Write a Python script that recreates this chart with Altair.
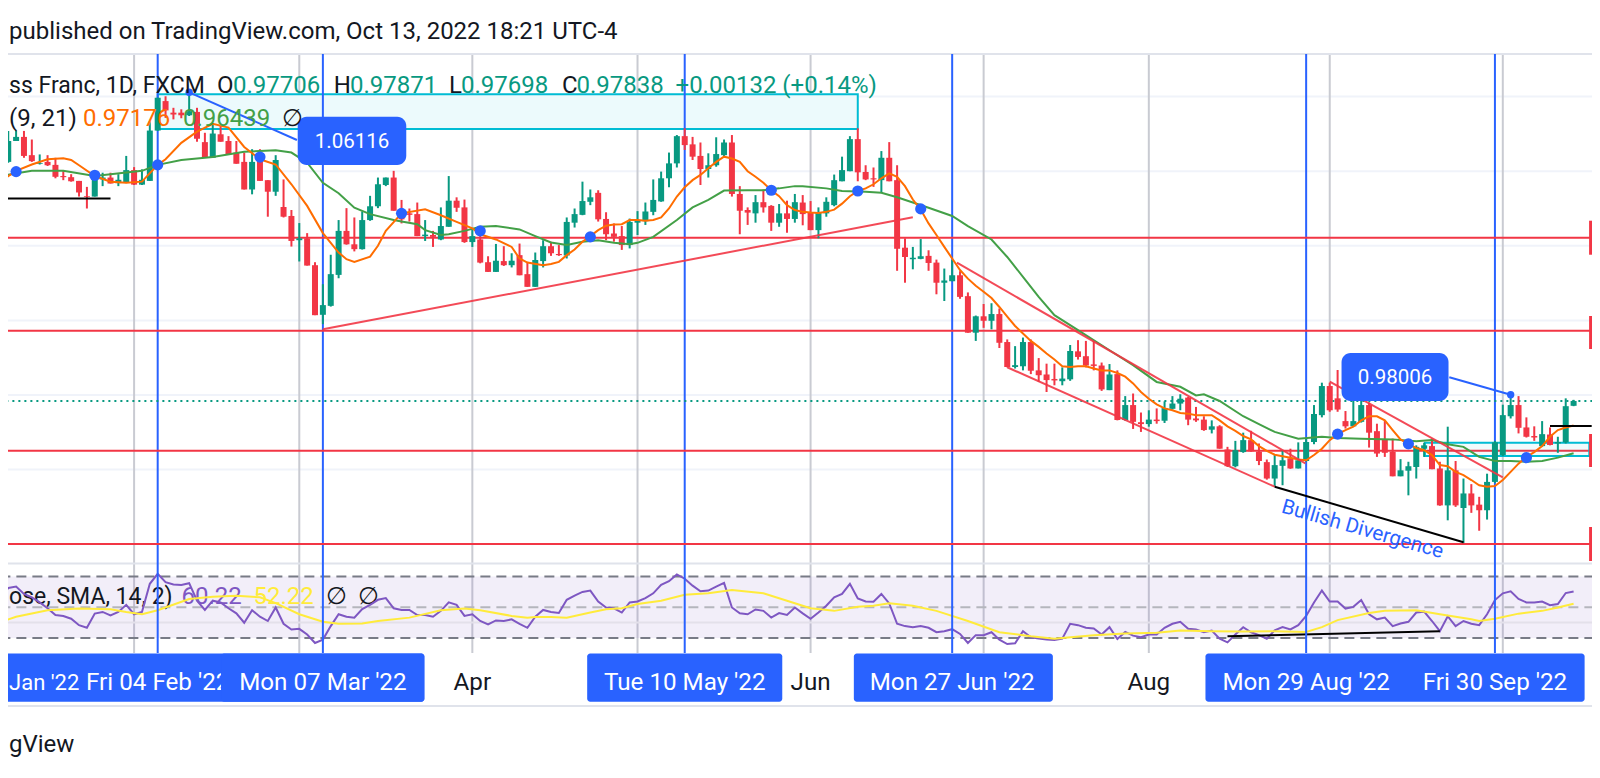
import altair as alt
import pandas as pd

# ---- candles: prices in 1/10000, first bar index -20 (Fri 04 Feb '22 = 0)
HIGH = [
 10450,10508,10509,10508,10485,10445,10443,10436,10401,10392,
 10374,10358,10392,10396,10396,10392,10441,10411,10405,10534,
 10597,10601,10570,10566,10612,10570,10503,10526,10521,10494,
 10481,10450,10459,10459,10376,10443,10378,10296,10261,10234,
 10156,10097,10176,10269,10301,10276,10292,10334,10383,10383,
 10401,10323,10300,10316,10269,10240,10303,10387,10330,10324,
 10244,10242,10172,10205,10199,10180,10206,10157,10182,10215,
 10211,10202,10276,10300,10372,10351,10349,10290,10260,10253,
 10273,10293,10316,10378,10399,10450,10497,10515,10492,10477,
 10448,10491,10485,10497,10360,10303,10336,10351,10309,10312,
 10321,10339,10336,10320,10303,10330,10391,10439,10494,10515,
 10416,10410,10454,10478,10416,10220,10197,10218,10188,10163,
 10139,10162,10132,10075,10013,10044,10046,10032,9949,9931,
 9954,9949,9899,9884,9884,9874,9934,9947,9945,9947,
 9887,9883,9866,9797,9804,9753,9759,9764,9783,9797,
 9802,9795,9768,9743,9732,9719,9661,9677,9699,9704,
 9670,9627,9639,9652,9656,9673,9683,9773,9833,9833,
 9867,9757,9786,9786,9780,9723,9732,9683,9628,9621,
 9665,9672,9683,9621,9715,9623,9576,9561,9527,9589,
 9677,9774,9801,9797,9740,9716,9730,9713,9688,9791,9787]
TOP = [
 10432,10481,10492,10492,10443,10422,10425,10417,10387,10384,
 10374,10333,10377,10383,10383,10377,10403,10403,10377,10509,
 10597,10588,10557,10557,10561,10559,10478,10501,10499,10481,
 10450,10425,10425,10427,10376,10430,10304,10280,10220,10220,
 10148,10041,10124,10240,10240,10204,10269,10306,10365,10383,
 10383,10296,10287,10285,10230,10229,10253,10321,10321,10303,
 10226,10217,10156,10160,10159,10160,10175,10124,10162,10199,
 10199,10178,10264,10285,10320,10330,10342,10272,10233,10226,
 10264,10268,10292,10323,10381,10421,10494,10494,10472,10441,
 10416,10446,10477,10477,10339,10296,10317,10317,10307,10287,
 10287,10317,10316,10289,10289,10318,10376,10403,10486,10486,
 10398,10381,10436,10436,10376,10195,10168,10172,10173,10155,
 10107,10121,10121,10065,10011,10011,10017,10017,9942,9880,
 9942,9942,9866,9855,9843,9844,9918,9917,9904,9882,
 9879,9855,9856,9773,9773,9727,9734,9734,9765,9777,
 9790,9793,9737,9734,9716,9716,9654,9652,9679,9679,
 9648,9620,9612,9625,9630,9625,9674,9749,9824,9824,
 9791,9730,9730,9773,9773,9703,9681,9648,9598,9609,
 9661,9665,9663,9603,9598,9598,9536,9536,9506,9567,
 9673,9746,9773,9773,9713,9690,9695,9694,9674,9770,9784]
BOT = [
 10383,10425,10481,10441,10427,10420,10416,10385,10384,10373,
 10343,10331,10332,10378,10367,10368,10369,10364,10364,10374,
 10509,10563,10552,10550,10550,10487,10436,10436,10479,10445,
 10420,10351,10351,10374,10345,10345,10278,10213,10215,10147,
 10014,10015,10039,10122,10204,10191,10191,10269,10306,10363,
 10294,10271,10283,10226,10226,10224,10217,10251,10302,10210,
 10210,10155,10130,10130,10148,10148,10121,10090,10090,10159,
 10180,10175,10174,10262,10283,10318,10271,10231,10224,10202,
 10202,10262,10266,10291,10319,10381,10421,10470,10439,10406,
 10406,10416,10443,10339,10294,10289,10287,10303,10262,10262,
 10272,10272,10285,10242,10242,10287,10309,10373,10400,10397,
 10378,10378,10376,10373,10192,10170,10164,10165,10154,10101,
 10101,10105,10063,9967,9967,9999,9999,9940,9875,9875,
 9877,9865,9853,9840,9839,9837,9842,9902,9879,9878,
 9815,9813,9733,9733,9728,9722,9722,9730,9731,9763,
 9777,9734,9732,9706,9707,9656,9609,9609,9647,9649,
 9623,9576,9576,9610,9603,9603,9623,9674,9746,9759,
 9761,9716,9716,9728,9699,9643,9645,9582,9582,9597,
 9607,9656,9601,9504,9504,9504,9497,9504,9491,9491,
 9567,9639,9743,9712,9688,9686,9663,9666,9670,9673,9771]
LOW = [
 10369,10423,10481,10436,10425,10418,10414,10381,10376,10372,
 10332,10300,10332,10360,10367,10360,10368,10363,10363,10374,
 10508,10543,10539,10542,10548,10479,10436,10436,10479,10445,
 10420,10351,10338,10374,10278,10334,10276,10198,10158,10147,
 10014,9990,10037,10113,10203,10185,10190,10267,10301,10360,
 10294,10260,10265,10226,10213,10197,10215,10251,10291,10208,
 10197,10153,10130,10130,10146,10142,10121,10090,10090,10142,
 10173,10173,10166,10249,10282,10309,10265,10215,10211,10189,
 10193,10229,10256,10282,10318,10357,10410,10457,10430,10363,
 10383,10412,10437,10332,10231,10256,10262,10289,10240,10251,
 10235,10262,10255,10242,10220,10278,10306,10373,10400,10373,
 10376,10358,10342,10373,10133,10101,10137,10164,10133,10070,
 10052,10105,10058,9967,9945,9980,9976,9926,9874,9871,
 9866,9856,9835,9808,9826,9826,9838,9895,9874,9866,
 9811,9813,9732,9731,9709,9701,9715,9723,9725,9761,
 9759,9719,9728,9704,9697,9656,9607,9606,9645,9648,
 9612,9573,9554,9558,9602,9603,9621,9668,9740,9755,
 9755,9710,9716,9726,9659,9634,9634,9582,9582,9531,
 9576,9634,9601,9503,9464,9500,9403,9484,9436,9466,
 9564,9636,9737,9697,9686,9677,9661,9665,9645,9670,9770]
DIRECTION = ("gggrrgrrrr" "rrggrggrgg" "grrrgrrgrr" "rrgrrgrrgr" "rgggrrgggg"
             "rrrrgrggrr" "grrgrgrrgg" "rrggggrrrr" "gggggggrrr" "gggrrrgrrg"
             "rgrrgggggr" "rrgrrrggrr" "ggrrgrgrrg" "grrrrggrrr" "rgrgrrgrgg"
             "grrrgrrggr" "rrggrggggr" "rrggrrrrgg" "ggrrgrgrrg" "gggrrrgrggg")
FIRST_BAR = -20

EMA9_I = [-20,-18,-16,-14,-12,-11,-10,-8,-6,-4,-2,0,1,3,5,7,9,11,13,15,17,19,21,23,24,25,27,28,29,
 31,34,36,38,40,41,43,45,46,47,49,50,51,52,53,54,55,56,57,58,59,60,61,62,63,64,65,66,67,68,69,70,71,72,73,74,75,76,77,78,79,80,81,
 82,83,84,85,86,87,88,89,90,91,92,93,94,95,96,97,98,99,100,101,102,103,104,105,106,107,108,109,110,111,112,113,114,115,116,117,118,119,120,121,122,123,124,125,126,127,128,129,130,131,132,
 133,134,135,136,137,138,139,140,141,142,143,144,145,146,147,148,149,150,151,152,153,154,155,156,157,158,159,160,161,162,163,164,165,166,167,168,169,170,171,172,173,174,175,176,177,178,179,180]
EMA9_V = [10372,10401,10418,10432,10435,10430,10416,10387,10372,10369,10372,10417,10432,10476,10506,10527,10517,10465,10432,10418,10365,10307,10234,10182,10164,10157,10171,10200,10240,
 10287,10298,10282,10264,10247,10231,10217,10197,10166,10155,10148,10151,10157,10175,10190,10211,10226,10242,10254,10257,10258,10269,10269,10267,10269,10276,10300,10332,10357,10376,10390,10408,10425,10439,10434,10425,10400,10385,10369,10349,10333,10309,10296,
 10291,10289,10288,10291,10297,10313,10333,10347,10354,10365,10381,10394,10385,10360,10324,10297,10260,10229,10197,10166,10135,10112,10093,10077,10060,10036,10010,9985,9965,9945,9929,9911,9895,9877,9875,9877,9877,9871,9866,9866,9859,9849,9831,9808,9790,9775,9764,9759,9752,9750,9746,
 9746,9746,9732,9716,9704,9690,9681,9663,9650,9640,9636,9632,9627,9625,9639,9656,9679,9695,9706,9715,9732,9743,9743,9732,9706,9681,9668,9658,9652,9639,9612,9609,9594,9585,9572,9558,9554,9556,9572,9594,9616,9634,9647,9663,9688,9706,9713,9718]

EMA21_I = [-20,-16,-12,-8,-6,-2,0,3,7,11,15,17,19,21,23,25,27,30,
 31,33,34,36,37,39,41,43,46,48,50,52,54,56,58,60,61,63,66,68,70,72,75,77,79,81,
 82,85,87,90,92,94,96,98,101,103,106,108,110,112,114,117,121,124,127,130,132,
 133,135,138,140,142,145,148,150,153,157,160,162,164,166,168,170,172,174,176,178,180]
EMA21_V = [10387,10401,10401,10387,10392,10401,10417,10430,10438,10452,10456,10450,10423,10369,10341,10302,10285,10269,
 10265,10258,10242,10229,10231,10240,10251,10253,10244,10226,10209,10202,10211,10215,10208,10204,10208,10224,10269,10303,10323,10348,10349,10349,10354,10360,
 10360,10354,10347,10345,10342,10330,10316,10302,10280,10253,10217,10170,10117,10063,10014,9974,9920,9880,9835,9822,9799,
 9802,9784,9743,9722,9701,9683,9688,9685,9683,9681,9676,9679,9668,9661,9634,9623,9623,9621,9623,9632,9644]

DOT_I = [-18,-8,0,13,31,41,55,78,89,97,150,159,174]
DOT_V = [10399,10389,10417,10438,10287,10240,10224,10349,10347,10299,9695,9669,9632]

RSI = [55.3,62.5,63.4,58.6,56.4,53.1,49.3,44.9,44.3,42.5,38.3,36.6,45.8,46.9,44.7,46.9,51.5,45.4,46.9,65.2,
 71.7,66.3,64.7,64.5,65.6,54.2,48.2,54.2,53.1,49.3,46.0,39.9,48.0,43.8,41.0,49.8,39.2,35.5,35.9,32.2,
 26.7,28.9,37.7,45.4,43.8,43.2,48.7,51.5,54.8,55.9,49.3,48.2,48.2,44.9,44.9,43.8,47.6,53.1,51.5,44.3,
 45.4,41.0,38.8,41.4,41.0,42.1,39.2,36.6,
 43.8,48.2,46.9,46.2,54.8,57.5,59.9,60.8,53.7,49.8,49.3,46.5,53.1,53.7,55.9,59.0,64.5,66.9,71.3,68.5,
 64.0,60.3,60.8,63.4,65.8,49.8,46.0,45.4,48.5,47.6,43.2,46.2,44.9,49.8,46.0,42.5,46.5,50.9,56.4,58.6,
 65.2,55.7,53.7,53.5,58.6,52.4,39.2,37.7,37.0,37.7,36.6,33.7,34.4,35.7,32.6,26.7,31.8,31.8,33.7,28.9,
 26.0,26.5,34.4,30.4,29.6,28.9,28.7,
 29.5,39.2,38.3,36.6,36.1,32.2,37.0,29.3,33.9,31.5,30.4,32.2,32.2,36.6,39.2,40.5,35.9,35.5,33.7,34.8,
 29.5,27.1,32.2,37.0,33.7,31.8,29.5,35.0,37.0,35.5,38.3,44.3,53.1,60.8,53.7,53.7,49.1,50.2,54.6,45.4,
 42.1,43.2,37.7,39.4,40.5,46.5,47.1,41.0,34.4,44.1,37.7,41.0,39.2,38.3,45.4,54.6,59.0,60.3,55.3,53.1,
 53.1,53.7,51.3,52.0,59.2,60.22]
RSI_MA_I = [-20,-18,-14,-10,-6,-4,-2,0,4,7,10,13,15,18,21,23,26,28,32,36,39,41,45,47,
 48,50,52,55,57,59,61,64,67,70,73,77,80,83,86,89,91,93,96,99,103,107,111,114,
 115,119,123,127,130,134,138,142,146,148,150,154,156,160,163,167,168,170,173,176,178,180]
RSI_MA_V = [40.3,43.8,48.0,49.1,48.7,46.9,45.4,48.0,55.3,56.8,57.5,56.4,52.6,45.4,40.5,39.2,39.4,41.0,43.2,48.0,49.1,48.0,44.3,43.2,
 43.6,43.6,43.2,46.5,48.7,49.3,52.0,54.2,58.1,59.0,61.2,59.0,54.2,49.3,47.6,50.2,50.9,52.6,50.9,47.6,41.0,33.7,31.1,29.5,
 30.0,31.8,32.9,33.3,34.8,34.4,34.2,34.4,33.9,37.0,41.6,46.2,47.6,48.0,45.4,42.1,41.0,42.5,45.8,47.6,49.8,52.22]

MONTH_TICKS = [-3,18,40,61,83,105,126,149,171]
EVENT_BARS = [0,21,67,101,146,170]
PRICE_GRID = [1.06,1.04,1.02,1.00,0.98,0.96]
KEY_LEVELS = [1.02217,0.99724,0.96507,0.94005]
TAGS_LOW = [1.01761,0.99233,0.96070,0.93549]
TAGS_HIGH = [1.02673,1.00118,0.96954,0.94461]
PANE_SEPARATORS = [1.07142,0.93482,0.89662]
LAST_CLOSE = 0.97838

RED_LINES = [(21,0.99761,96,1.02764),(101.6,1.01547,145.9,0.96169),(108,0.98743,142,0.95542),(149,0.98357,171,0.95794)]
BLACK_LINES = [(-20,1.03268,-6,1.03268),(142,0.95542,166,0.94051),(177,0.97169,182.3,0.97169)]
BLUE_NOTE_LINES = [(4,1.06116,17.7,1.04837),(164.2,0.98475,172,0.98006)]

GREEN, RED, BLUE, INK = "#089981","#f23645","#2962ff","#131722"
ORANGE, MA_GREEN, PURPLE, YELLOW = "#ff6d00","#43a047","#7e57c2","#ffeb3b"
CYAN = "#00bcd4"
FONT = "Roboto"
FS = 24

X0, X1 = -19.03, 182.34
LEFT_TEXT = -18.9
PRICE_DOM = [0.87999, 1.08376]
RSI_DOM = [-54.6, 439.7]
AXIS_TOP, AXIS_BOT = 1.07142, 0.91083

xs = alt.Scale(domain=[X0, X1], nice=False, zero=False)
ps = alt.Scale(domain=PRICE_DOM, nice=False, zero=False)
rs = alt.Scale(domain=RSI_DOM, nice=False, zero=False)
X = lambda f: alt.X(f"{f}:Q", scale=xs, axis=None)
Y = lambda f: alt.Y(f"{f}:Q", scale=ps, axis=None)
YR = lambda f: alt.Y(f"{f}:Q", scale=rs, axis=None)


def table(**cols):
    return alt.Data(values=pd.DataFrame(cols).to_dict("records"))


def segments(rows, scale_y=Y, **style):
    d = table(a=[r[0] for r in rows], u=[r[1] for r in rows], b=[r[2] for r in rows], v=[r[3] for r in rows])
    return alt.Chart(d).mark_rule(**style).encode(x=X("a"), x2="b:Q", y=scale_y("u"), y2="v:Q")


def vrules(bars, **style):
    d = table(i=bars, u=[AXIS_TOP]*len(bars), v=[AXIS_BOT]*len(bars))
    return alt.Chart(d).mark_rule(**style).encode(x=X("i"), y=Y("u"), y2="v:Q")


def hlines(vals, scale_y=Y, x0=-20, x1=X1, **style):
    d = table(a=[x0]*len(vals), b=[x1]*len(vals), u=vals)
    return alt.Chart(d).mark_rule(**style).encode(x=X("a"), x2="b:Q", y=scale_y("u"))


def box(x0, x1, u, v, **style):
    d = table(a=[x0], b=[x1], u=[u], v=[v])
    return alt.Chart(d).mark_rect(**style).encode(x=X("a"), x2="b:Q", y=Y("u"), y2="v:Q")


def label(text, i, v, color=INK, align="left", size=FS, scale_y=Y, dy=1, **kw):
    d = table(t=[text], i=[i], v=[v])
    return alt.Chart(d).mark_text(color=color, align=align, baseline="middle", font=FONT, fontSize=size, dy=dy, **kw).encode(
        x=X("i"), y=scale_y("v"), text="t:N")


def line(idx, vals, color, scale_y=Y, div=10000.0, width=2):
    d = table(i=idx, v=[x/div for x in vals])
    return alt.Chart(d).mark_line(color=color, strokeWidth=width).encode(x=X("i"), y=scale_y("v"))


n = len(HIGH)
bars = [FIRST_BAR+k for k in range(n)]
cd = pd.DataFrame({"i": bars, "h": [x/1e4 for x in HIGH], "t": [x/1e4 for x in TOP],
                   "b": [x/1e4 for x in BOT], "l": [x/1e4 for x in LOW], "d": list(DIRECTION)})
cdata = alt.Data(values=cd.to_dict("records"))
stroke = alt.Stroke("d:N", scale=alt.Scale(domain=["g","r"], range=[GREEN, RED]), legend=None)
wicks = alt.Chart(cdata).mark_rule(strokeWidth=2).encode(x=X("i"), y=Y("h"), y2="l:Q", stroke=stroke)
bodies = alt.Chart(cdata).mark_rule(strokeWidth=6).encode(x=X("i"), y=Y("t"), y2="b:Q", stroke=stroke)

dots = alt.Chart(table(i=DOT_I, v=[x/1e4 for x in DOT_V])).mark_circle(size=125, color=BLUE, opacity=1).encode(x=X("i"), y=Y("v"))
note_dots = alt.Chart(table(i=[4,172], v=[1.06116,0.98006])).mark_circle(size=55, color=BLUE, opacity=1).encode(x=X("i"), y=Y("v"))

rsi_idx = list(range(FIRST_BAR, FIRST_BAR+len(RSI)))
TIME_FS = 24.2

layers = [
    hlines(PRICE_GRID, color="#f0f3fa", strokeWidth=2),
    vrules(MONTH_TICKS, color="#c9cbd2", strokeWidth=2),
    hlines(PANE_SEPARATORS, color="#e0e3eb", strokeWidth=2),
    box(0, 89, 1.06062, 1.05132, fill="#ecfafc", stroke=CYAN, strokeWidth=2),
    # RSI pane
    alt.Chart(table(a=[-20], b=[X1], u=[70], v=[30])).mark_rect(fill=PURPLE, fillOpacity=0.1).encode(x=X("a"), x2="b:Q", y=YR("u"), y2="v:Q"),
    hlines([40], scale_y=YR, color="#e3e0ea", strokeWidth=2),
    hlines([70, 30], scale_y=YR, color="#787b86", strokeWidth=2, strokeDash=[10, 6]),
    hlines([50], scale_y=YR, color="#b5b6bd", strokeWidth=2, strokeDash=[10, 6]),
    label("ose, SMA, 14, 2)", LEFT_TEXT, 57.5, scale_y=YR, size=23),
    label("60.22", 3.03, 57.5, color=PURPLE, scale_y=YR),
    label("52.22", 12.18, 57.5, color=YELLOW, scale_y=YR),
    label("\u2205", 21.4, 57.5, scale_y=YR),
    label("\u2205", 25.5, 57.5, scale_y=YR),
    line(rsi_idx, RSI, PURPLE, scale_y=YR, div=1.0),
    line(RSI_MA_I, RSI_MA_V, YELLOW, scale_y=YR, div=1.0),
    segments([(136, 31.1, 163, 34.4)], scale_y=YR, color="#000000", strokeWidth=2),
    # main pane
    vrules(EVENT_BARS, color=BLUE, strokeWidth=2),
    hlines([LAST_CLOSE], color=GREEN, strokeWidth=2, strokeDash=[2, 4]),
    hlines(KEY_LEVELS, color=RED, strokeWidth=2),
    box(161.1, 182, 0.96721, 0.96365, fill=CYAN, fillOpacity=0.06, stroke=CYAN, strokeWidth=2),
    wicks, bodies,
    line(EMA21_I, EMA21_V, MA_GREEN),
    line(EMA9_I, EMA9_V, ORANGE),
    segments(RED_LINES, color=RED, strokeWidth=2, opacity=0.9),
    segments(BLACK_LINES, color="#000000", strokeWidth=2),
    dots,
    segments(BLUE_NOTE_LINES, color=BLUE, strokeWidth=2),
    note_dots,
    box(17.8, 31.6, 1.05461, 1.04166, fill=BLUE, cornerRadius=9),
    label("1.06116", 24.7, 1.04823, color="#ffffff", align="center", size=20.5),
    box(150.5, 164.1, 0.99126, 0.97839, fill=BLUE, cornerRadius=9),
    label("0.98006", 157.3, 0.98483, color="#ffffff", align="center", size=20.5),
    label("Bullish Divergence", 153.2, 0.9442, color=BLUE, align="center", size=20.5, angle=16),
    # tags at the price scale
    alt.Chart(table(a=[181.97]*4, b=[X1]*4, u=TAGS_HIGH, v=TAGS_LOW)).mark_rect(fill=RED).encode(x=X("a"), x2="b:Q", y=Y("u"), y2="v:Q"),
    # header & legends
    label("published on TradingView.com, Oct 13, 2022 18:21 UTC-4", LEFT_TEXT, 1.0777),
    label("ss Franc, 1D, FXCM", LEFT_TEXT, 1.06311, size=23),
    label("O", 7.54, 1.06311),
    label("0.97706", 9.57, 1.06311, color=GREEN),
    label("H", 22.37, 1.06311),
    label("0.97871", 24.45, 1.06311, color=GREEN),
    label("L", 37.03, 1.06311),
    label("0.97698", 38.56, 1.06311, color=GREEN),
    label("C", 51.4, 1.06311),
    label("0.97838", 53.24, 1.06311, color=GREEN),
    label("+0.00132 (+0.14%)", 65.83, 1.06311, color=GREEN),
    label("(9, 21)", LEFT_TEXT, 1.05426),
    label("0.97176", -9.5, 1.05426, color=ORANGE),
    label("0.96439", 3.22, 1.05426, color=MA_GREEN),
    label("\u2205", 15.8, 1.05426),
    # time axis
    label("Apr", 40, 0.90311, align="center", size=TIME_FS),
    label("Jun", 83, 0.90311, align="center", size=TIME_FS),
    label("Aug", 126, 0.90311, align="center", size=TIME_FS),
    box(-20.05, 33.9, 0.91072, 0.89775, fill=BLUE, cornerRadius=3),
    label("Jan '22", LEFT_TEXT, 0.90311, color="#ffffff", size=22),
    label("Fri 04 Feb '22", 0, 0.90311, color="#ffffff", align="center", size=TIME_FS),
    box(8.05, 33.9, 0.91072, 0.89775, fill=BLUE, cornerRadius=3),
    label("Mon 07 Mar '22", 21, 0.90311, color="#ffffff", align="center", size=TIME_FS),
    box(54.6, 79.4, 0.91072, 0.89775, fill=BLUE, cornerRadius=3),
    label("Tue 10 May '22", 67, 0.90311, color="#ffffff", align="center", size=TIME_FS),
    box(88.5, 113.8, 0.91072, 0.89775, fill=BLUE, cornerRadius=3),
    label("Mon 27 Jun '22", 101, 0.90311, color="#ffffff", align="center", size=TIME_FS),
    box(133.2, 181.4, 0.91072, 0.89775, fill=BLUE, cornerRadius=3),
    label("Mon 29 Aug '22", 146, 0.90311, color="#ffffff", align="center", size=TIME_FS),
    label("Fri 30 Sep '22", 170, 0.90311, color="#ffffff", align="center", size=TIME_FS),
    label("gView", LEFT_TEXT, 0.88643),
]

chart = alt.layer(*layers).resolve_scale(y="independent", x="shared").properties(
    width=1584, height=760, padding=0, autosize=alt.AutoSizeParams(type="none"),
    background="#ffffff").configure_view(stroke=None)

chart.save("out.html", embed_options={"renderer": "svg", "actions": False})
